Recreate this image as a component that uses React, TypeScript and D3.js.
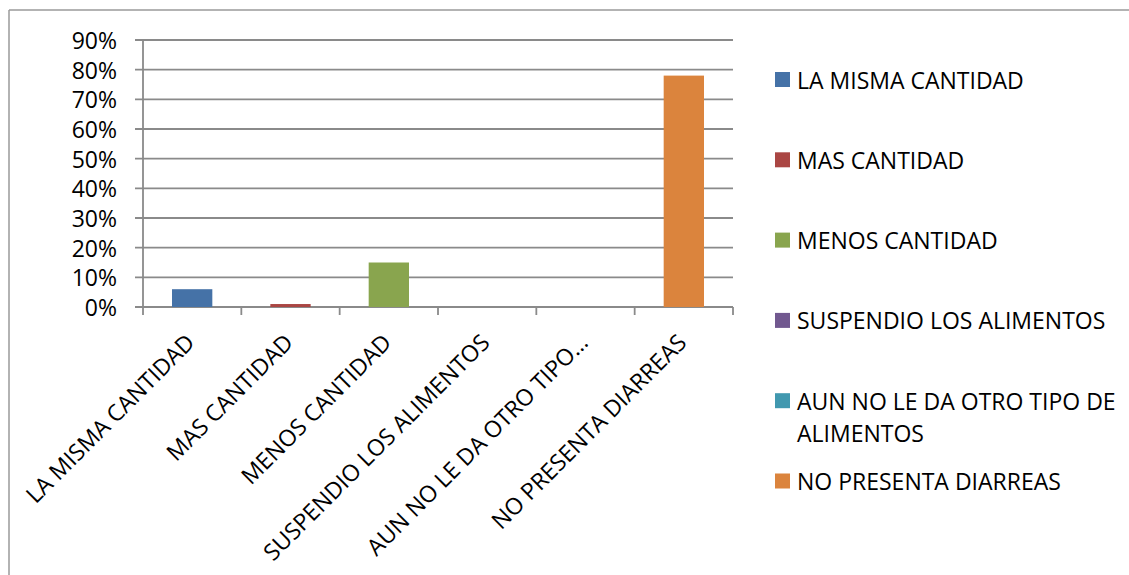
import React from "react";
import * as d3 from "d3";

const categories = [
  "LA MISMA CANTIDAD",
  "MAS CANTIDAD",
  "MENOS CANTIDAD",
  "SUSPENDIO LOS ALIMENTOS",
  "AUN NO LE DA OTRO TIPO DE ALIMENTOS",
  "NO PRESENTA DIARREAS",
];
const axisLabels = [
  "LA MISMA CANTIDAD",
  "MAS CANTIDAD",
  "MENOS CANTIDAD",
  "SUSPENDIO LOS ALIMENTOS",
  "AUN NO LE DA OTRO TIPO…",
  "NO PRESENTA DIARREAS",
];
const legendLines = [
  ["LA MISMA CANTIDAD"],
  ["MAS CANTIDAD"],
  ["MENOS CANTIDAD"],
  ["SUSPENDIO LOS ALIMENTOS"],
  ["AUN NO LE DA OTRO TIPO DE", "ALIMENTOS"],
  ["NO PRESENTA DIARREAS"],
];
const values = [6, 1, 15, 0, 0, 78];
const colors = ["#4572a7", "#aa4643", "#89a54e", "#71588f", "#4198af", "#db843d"];
const yTicks = [0, 10, 20, 30, 40, 50, 60, 70, 80, 90];

const W = 1129;
const H = 575;
const plot = { left: 143, right: 733, top: 40, bottom: 307 };
const FONT = "'Open Sans', 'Noto Sans', sans-serif";
const FS = 23;
const GRID = "#8a8a8a";

export default function App() {
  const x = d3
    .scaleBand<string>()
    .domain(categories)
    .range([plot.left, plot.right])
    .padding(0);
  const y = d3.scaleLinear().domain([0, 90]).range([plot.bottom, plot.top]);
  const barW = x.bandwidth() * 0.41;
  const legendY = d3
    .scalePoint<string>()
    .domain(categories)
    .range([79.5, 481]);

  return (
    <svg
      width={W}
      height={H}
      style={{ position: "absolute", left: 0, top: 0, background: "#fff" }}
      fontFamily={FONT}
    >
      {/* chart frame */}
      <line x1={9} x2={W} y1={10} y2={10} stroke="#9a9a9a" strokeWidth={1.5} />
      <line x1={9} x2={9} y1={10} y2={H} stroke="#9a9a9a" strokeWidth={1.5} />

      {/* gridlines and y ticks */}
      {yTicks.map((t) => (
        <g key={t}>
          <line
            x1={plot.left - 8}
            x2={plot.right}
            y1={y(t)}
            y2={y(t)}
            stroke={GRID}
            strokeWidth={1.8}
          />
          <text
            x={117}
            y={y(t)}
            textAnchor="end"
            dominantBaseline="central"
            fontSize={FS}
            fill="#000"
          >
            {t}%
          </text>
        </g>
      ))}
      <line x1={plot.left} x2={plot.left} y1={plot.top} y2={plot.bottom + 8} stroke={GRID} strokeWidth={1.8} />
      {categories.map((c) => (
        <line
          key={c}
          x1={(x(c) as number) + x.bandwidth()}
          x2={(x(c) as number) + x.bandwidth()}
          y1={plot.bottom}
          y2={plot.bottom + 8}
          stroke={GRID}
          strokeWidth={1.8}
        />
      ))}

      {/* bars */}
      {categories.map((c, i) => {
        const cx = (x(c) as number) + x.bandwidth() / 2;
        const top = y(values[i]);
        return values[i] > 0 ? (
          <rect
            key={c}
            x={cx - barW / 2}
            y={top}
            width={barW}
            height={plot.bottom - top}
            fill={colors[i]}
          />
        ) : null;
      })}

      {/* category labels */}
      {categories.map((c, i) => {
        const cx = (x(c) as number) + x.bandwidth() / 2 + 4;
        const ly = 344;
        return (
          <text
            key={c}
            x={cx}
            y={ly}
            textAnchor="end"
            fontSize={FS}
            fill="#000"
            transform={`rotate(-45 ${cx} ${ly})`}
          >
            {axisLabels[i]}
          </text>
        );
      })}

      {/* legend */}
      {categories.map((c, i) => {
        const cy = legendY(c) as number;
        return (
          <g key={c}>
            <rect x={775} y={cy - 7.5} width={15} height={15} fill={colors[i]} />
            {legendLines[i].map((line, j) => (
              <text
                key={j}
                x={797}
                y={cy + j * 32}
                dominantBaseline="central"
                fontSize={FS}
                fill="#000"
              >
                {line}
              </text>
            ))}
          </g>
        );
      })}
    </svg>
  );
}
